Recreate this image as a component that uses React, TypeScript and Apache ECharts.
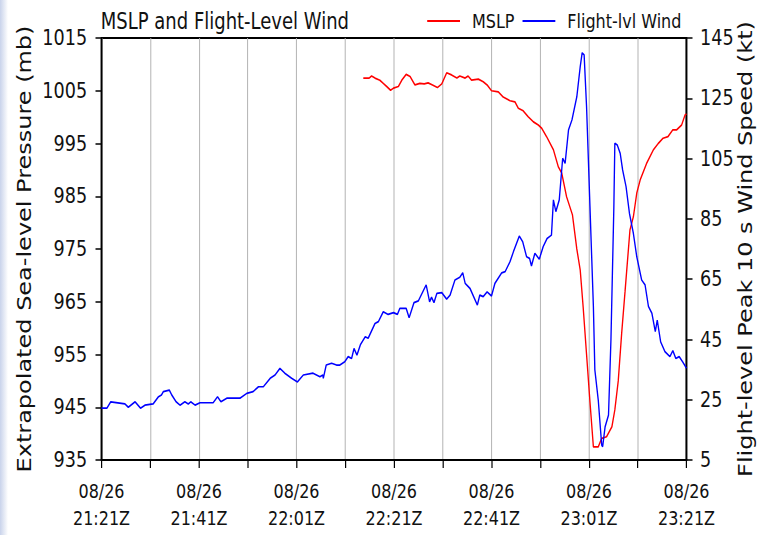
import React, { useEffect, useRef } from 'react';
import * as echarts from 'echarts';

// ---- data (minutes after 08/26 21:21Z) ----
const windMinutes = [
  0, 1.1, 1.9, 4.8, 5.5, 6.9, 8.0, 8.9, 10.6, 11.7,
  12.3, 12.7, 13.9, 14.4, 15.3, 16.1, 17.1, 17.8, 18.3, 19.2,
  20.2, 22.9, 23.8, 24.5, 25.7, 28.4, 29.8, 31.1, 32.2, 33.2,
  34.6, 35.6, 36.6, 37.6, 39.0, 40.2, 41.4, 43.4, 44.8, 45.4,
  45.5, 46.1, 47.2, 48.2, 48.9, 49.9, 50.6, 51.3, 51.8, 52.4,
  53.1, 54.1, 54.7, 56.1, 56.8, 57.8, 58.8, 59.9, 60.7, 61.2,
  62.5, 63.1, 64.1, 65.0, 66.6, 67.3, 67.7, 68.2, 68.8, 69.8,
  70.8, 71.5, 72.5, 73.5, 74.1, 74.6, 75.6, 77.1, 77.6, 78.3,
  79.1, 80.0, 80.7, 82.1, 82.8, 83.8, 84.5, 85.7, 86.4, 87.2,
  87.8, 88.2, 88.9, 89.8, 90.6, 91.4, 92.3, 92.7, 93.2, 93.9,
  94.6, 95.1, 95.8, 96.5, 97.5, 98.2, 98.6, 99.0, 99.5, 100.2,
  100.9, 101.2, 101.9, 102.6, 102.8, 103.3, 104.0, 104.5, 105.1, 105.3,
  105.8, 106.4, 106.9, 107.6, 108.3, 109.1, 109.8, 110.8, 111.5, 112.2,
  112.9, 113.6, 114.0, 114.7, 115.6, 116.6, 117.2, 117.8, 118.5, 119.2,
  120,
];
const windKt = [
  22.2, 22.2, 24.3, 23.6, 22.5, 24.3, 22.2, 23.2, 23.6, 26.0,
  26.6, 27.7, 28.2, 26.6, 24.3, 23.2, 24.3, 23.6, 24.3, 23.2,
  24.0, 24.0, 26.0, 24.3, 25.5, 25.5, 27.1, 27.7, 29.3, 29.3,
  32.1, 33.2, 35.4, 33.8, 32.1, 30.9, 33.2, 33.8, 32.6, 33.2,
  32.1, 36.5, 37.1, 36.5, 36.5, 37.6, 39.3, 38.7, 42.0, 39.8,
  43.2, 45.9, 45.4, 50.3, 50.9, 54.2, 53.3, 53.9, 53.3, 55.3,
  55.3, 52.2, 57.2, 57.8, 63.1, 57.5, 59.0, 57.2, 60.3, 60.5,
  58.4, 59.7, 64.7, 65.6, 67.1, 63.6, 61.9, 56.4, 59.7, 59.2,
  60.8, 59.4, 63.6, 67.1, 67.5, 70.8, 74.1, 79.3, 77.4, 72.4,
  71.9, 69.4, 73.6, 71.6, 75.8, 78.5, 79.6, 91.3, 87.4, 91.3,
  105.1, 103.4, 114.5, 117.8, 125.5, 135.5, 140.1, 139.4, 122.2, 89.0,
  55.9, 34.9, 24.9, 10.0, 9.4, 16.0, 19.9, 44.8, 89.0, 110.1,
  109.5, 106.7, 101.2, 95.7, 86.8, 80.2, 72.4, 64.7, 63.1, 55.9,
  53.7, 47.6, 51.4, 44.2, 40.9, 39.3, 41.3, 38.7, 39.3, 37.6,
  35.4,
];
const mslpMinutes = [
  53.7, 54.9, 55.4, 56.1, 57.1, 57.8, 58.5, 59.3, 59.9, 60.9,
  61.6, 62.5, 63.3, 64.3, 65.3, 66.2, 67.0, 67.9, 68.9, 69.8,
  70.8, 71.8, 72.9, 73.5, 74.6, 75.2, 75.9, 77.3, 78.3, 79.1,
  80.0, 81.4, 82.4, 83.8, 84.8, 85.5, 86.5, 87.5, 88.6, 89.6,
  90.3, 91.3, 92.7, 93.7, 94.4, 95.4, 96.6, 97.5, 98.2, 98.8,
  99.5, 100.2, 100.9, 101.9, 102.6, 103.6, 104.7, 105.3, 106.0, 106.7,
  107.4, 108.4, 109.1, 109.8, 110.5, 111.8, 113.2, 114.2, 115.2, 116.2,
  117.2, 118.0, 119.0, 119.7, 120,
];
const mslpMb = [
  1007.4, 1007.4, 1007.8, 1007.4, 1007.0, 1006.4, 1005.8, 1005.1, 1005.5, 1005.8,
  1007.0, 1008.1, 1007.7, 1006.1, 1006.4, 1006.3, 1006.5, 1006.1, 1005.6, 1006.3,
  1008.4, 1008.0, 1007.4, 1007.8, 1007.4, 1007.8, 1007.0, 1007.2, 1006.7, 1006.1,
  1005.0, 1004.8, 1003.8, 1003.1, 1002.9, 1001.7, 1001.2, 1000.1, 999.1, 998.5,
  997.9, 996.3, 993.8, 990.6, 989.4, 984.9, 981.5, 975.0, 971.0, 964.0,
  955.0, 946.0, 937.5, 937.5, 939.1, 939.4, 941.3, 944.5, 950.0, 959.0,
  967.0, 978.6, 981.1, 985.6, 988.1, 991.2, 993.8, 995.0, 996.0, 996.3,
  997.6, 997.6, 998.5, 1000.4, 1000.6,
];
const dateLabel = '08/26';
const timeLabels = ['21:21Z', '21:41Z', '22:01Z', '22:21Z', '22:41Z', '23:01Z', '23:21Z'];
const pressureMin = 935;
const pressureMax = 1015;
const windMin = 5;
const windMax = 145;

// ---- layout (the figure is horizontally condensed) ----
const SQ = 0.8;
const H = 535;
const W = 757 / SQ;
const FONT = 'DejaVu Sans';

export default function App() {
  const ref = useRef<HTMLDivElement>(null);
  useEffect(() => {
    if (!ref.current) return;
    const chart = echarts.init(ref.current, null, { renderer: 'svg', width: W, height: H });
    const mslpData = mslpMinutes.map((t, i) => [t, mslpMb[i] - pressureMin]);
    const windData = windMinutes.map((t, i) => [t, windKt[i] - windMin]);
    chart.setOption({
      animation: false,
      backgroundColor: '#ffffff',
      textStyle: { fontFamily: FONT },
      title: {
        text: 'MSLP and Flight-Level Wind',
        left: 126,
        top: 10,
        padding: 0,
        textStyle: { fontFamily: FONT, fontSize: 22.5, fontWeight: 'normal', color: '#111' },
      },
      legend: {
        left: 534,
        top: 11,
        padding: 0,
        itemGap: 10,
        itemWidth: 41,
        itemHeight: 2,
        icon: 'rect',
        data: ['MSLP', 'Flight-lvl Wind'],
        textStyle: { fontFamily: FONT, fontSize: 20, color: '#111', padding: [0, 0, 0, 10] },
      },
      grid: {
        left: 101.5 / SQ,
        right: W - 686.5 / SQ,
        top: 38,
        bottom: H - 460,
        outerBoundsMode: 'none',
        containLabel: false,
        show: true,
        borderColor: '#000',
        borderWidth: 2,
        backgroundColor: 'transparent',
      },
      xAxis: {
        type: 'value',
        min: 0,
        max: 120,
        interval: 10,
        axisLine: { show: true, lineStyle: { color: '#000', width: 2 } },
        axisTick: { show: true, length: 8, inside: false, lineStyle: { color: '#000', width: 1.5 } },
        splitLine: { show: true, lineStyle: { color: '#b0b0b0', width: 1.2 } },
        axisLabel: {
          showMinLabel: true,
          showMaxLabel: true,
          margin: 17,
          fontFamily: FONT,
          fontSize: 20,
          lineHeight: 27,
          color: '#111',
          formatter: (v: number) => {
            const i = Math.round(v / 20);
            return Math.abs(v - i * 20) < 1e-6 ? `${dateLabel}\n${timeLabels[i]}` : '';
          },
        },
      },
      yAxis: [
        {
          type: 'value',
          position: 'left',
          min: 0,
          max: pressureMax - pressureMin,
          interval: 10,
          name: 'Extrapolated Sea-level Pressure (mb)',
          nameLocation: 'middle',
          nameRotate: 90,
          nameGap: 85,
          nameMoveOverlap: false,
          nameTextStyle: { fontFamily: FONT, fontSize: 24, color: '#111' },
          axisLine: { show: true, lineStyle: { color: '#000', width: 2 } },
          axisTick: { show: true, length: 7.5, inside: false, lineStyle: { color: '#000', width: 1.5 } },
          splitLine: { show: false },
          axisLabel: {
            margin: 18,
            fontFamily: FONT,
            fontSize: 22,
            color: '#111',
            formatter: (v: number) => String(v + pressureMin),
          },
        },
        {
          type: 'value',
          position: 'right',
          min: 0,
          max: windMax - windMin,
          interval: 20,
          name: 'Flight-level Peak 10 s Wind Speed (kt)',
          nameLocation: 'middle',
          nameRotate: 90,
          nameGap: 61,
          nameMoveOverlap: false,
          nameTextStyle: { fontFamily: FONT, fontSize: 24, color: '#111' },
          axisLine: { show: true, lineStyle: { color: '#000', width: 2 } },
          axisTick: { show: true, length: 7.5, inside: false, lineStyle: { color: '#000', width: 1.5 } },
          splitLine: { show: false },
          axisLabel: {
            margin: 17,
            fontFamily: FONT,
            fontSize: 22,
            color: '#111',
            formatter: (v: number) => String(v + windMin),
          },
        },
      ],
      series: [
        {
          name: 'MSLP',
          type: 'line',
          yAxisIndex: 0,
          data: mslpData,
          showSymbol: false,
          symbol: 'none',
          color: '#ff0000',
          lineStyle: { color: '#ff0000', width: 1.7 },
          emphasis: { disabled: true },
          z: 2,
        },
        {
          name: 'Flight-lvl Wind',
          type: 'line',
          yAxisIndex: 1,
          data: windData,
          showSymbol: false,
          symbol: 'none',
          color: '#0000ff',
          lineStyle: { color: '#0000ff', width: 1.7 },
          emphasis: { disabled: true },
          z: 3,
        },
      ],
    });
    return () => chart.dispose();
  }, []);

  return (
    <div style={{ position: 'fixed', left: 0, top: 0, width: 757, height: 535, overflow: 'hidden', background: '#ffffff' }}>
      <div
        ref={ref}
        style={{ position: 'absolute', left: 0, top: 0, width: W, height: H, transform: `scaleX(${SQ})`, transformOrigin: '0 0' }}
      />
      <div
        style={{
          position: 'absolute',
          left: 0,
          top: 0,
          width: 8,
          height: 535,
          background: 'linear-gradient(to right, #c9d3eb, #eef1f8 70%, #ffffff)',
        }}
      />
    </div>
  );
}
